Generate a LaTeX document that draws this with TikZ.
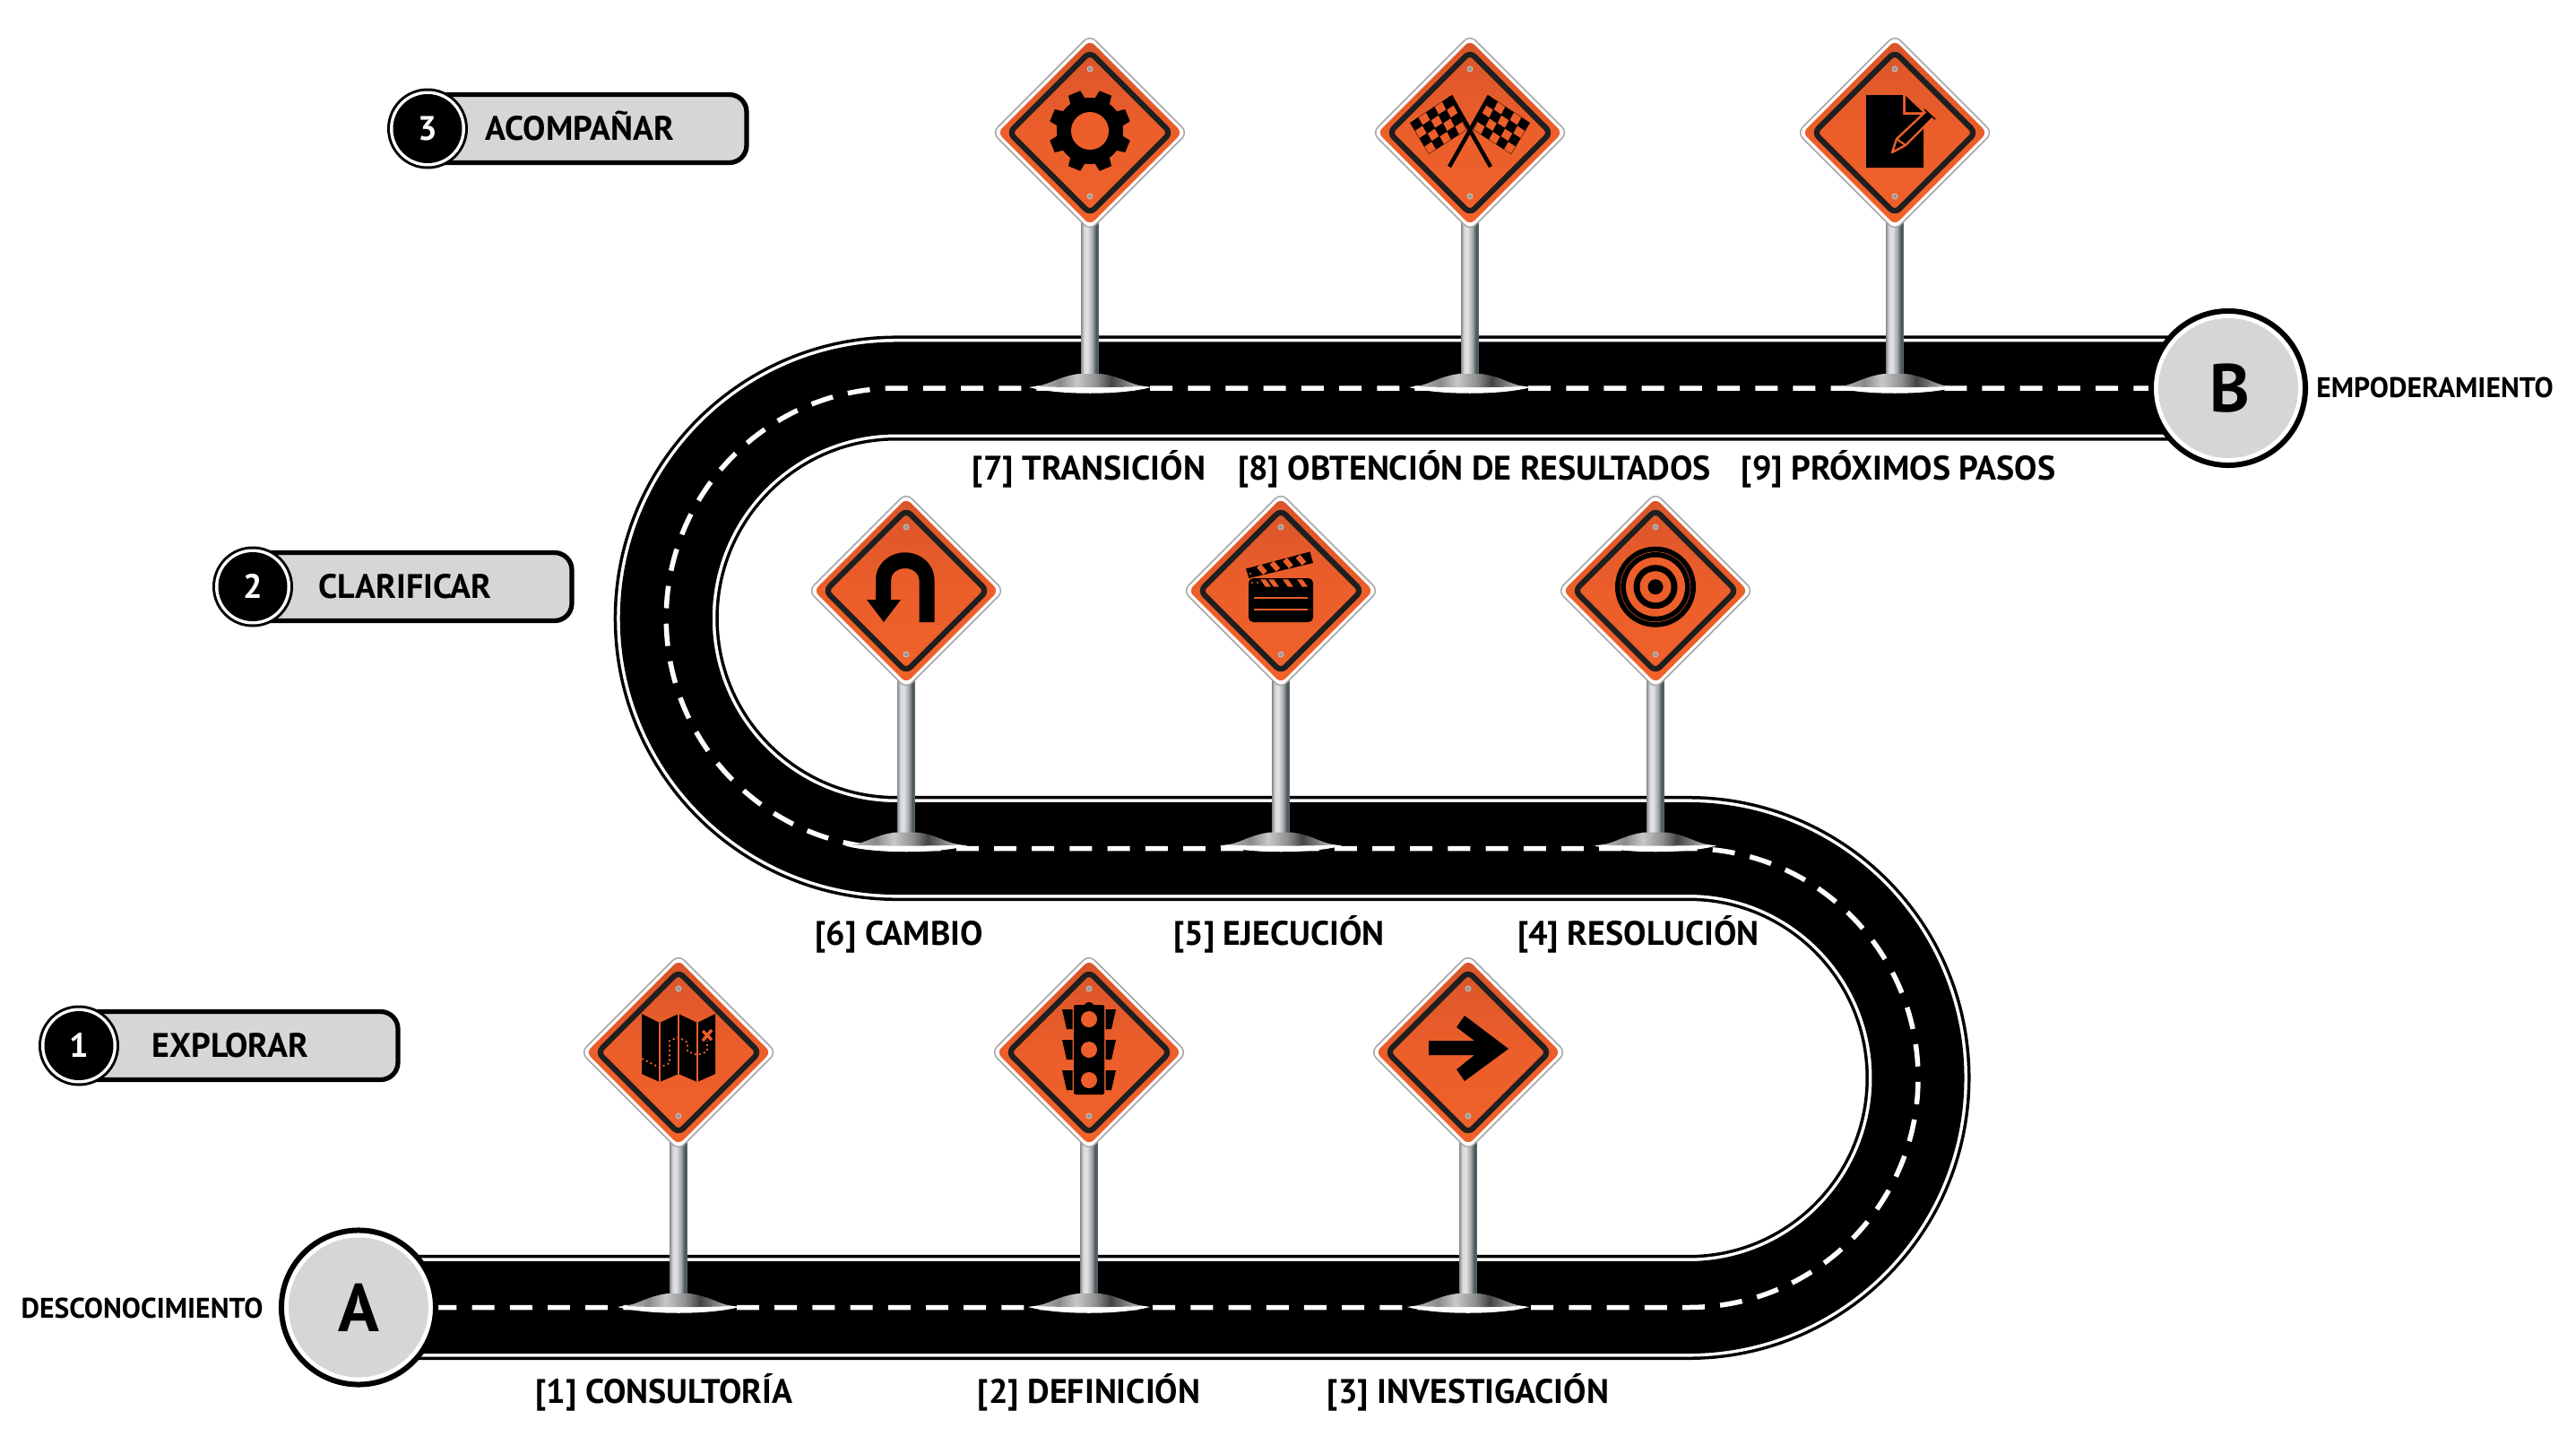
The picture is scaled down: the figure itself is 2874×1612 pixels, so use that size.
\documentclass[tikz,border=0pt]{standalone}
\usepackage{fontspec}
\setmainfont{PT Sans}[BoldFont={PT Sans Bold}]
\usetikzlibrary{calc}
\definecolor{signor}{HTML}{EC5E2A}
\definecolor{signortop}{HTML}{F0622A}
\definecolor{signorbot}{HTML}{D9552A}
\definecolor{pillgr}{HTML}{D6D6D6}
\definecolor{pa}{HTML}{909395}
\definecolor{pb}{HTML}{D8DADB}
\definecolor{pc}{HTML}{E0E2E3}
\definecolor{pd}{HTML}{A5A9AB}
\definecolor{pe}{HTML}{4A565B}
\definecolor{pf}{HTML}{5C666B}
\pgfdeclarehorizontalshading{polesh}{100bp}{color(0bp)=(pa);color(25bp)=(pa);color(33bp)=(pb);color(43bp)=(pc);color(57bp)=(pd);color(68bp)=(pe);color(75bp)=(pf);color(100bp)=(pf)}
\definecolor{da}{HTML}{BBBBBB}
\definecolor{db}{HTML}{8A8A8A}
\definecolor{dc}{HTML}{C8C8C8}
\definecolor{dd}{HTML}{909090}
\definecolor{de}{HTML}{444444}
\definecolor{df}{HTML}{777777}
\definecolor{dg}{HTML}{C8C8C8}
\pgfdeclarehorizontalshading{domesh}{100bp}{color(0bp)=(da);color(25bp)=(da);color(36bp)=(db);color(44bp)=(dc);color(53bp)=(dd);color(60bp)=(de);color(66bp)=(df);color(75bp)=(dg);color(100bp)=(dg)}
\newcommand\px{0.2845pt}
\tikzset{
  lbl/.style={font=\bfseries\fontsize{10.8pt}{12pt}\selectfont,inner sep=0pt,anchor=base,text=black},
  lblsmall/.style={font=\bfseries\fontsize{9pt}{11pt}\selectfont,inner sep=0pt,anchor=base,text=black},
  pillbox/.style={draw=black,fill=pillgr,line width=1.5pt,rounded corners=5.5pt},
  roadblack/.style={line width=117*\px,draw=black},
  roadwhite/.style={line width=110*\px,draw=white},
  roadinner/.style={line width=103*\px,draw=black},
  roaddash/.style={line width=5.5*\px,draw=white,dash pattern=on 7.1pt off 4.9pt},
  bigcircle/.style={circle,draw=black,line width=6*\px,fill=white,minimum size=172*\px,inner sep=0pt},
}
\newcommand\sign[3]{%
  \begin{scope}[shift={(#1,#2)}]
    \fill[white,draw=gray!70,line width=1.5*\px,rounded corners=2.5pt] (0,-109)--(109,0)--(0,109)--(-109,0)--cycle;
    \shade[top color=signortop,bottom color=signorbot,middle color=signor,rounded corners=2pt,shading angle=180] (0,-103)--(103,0)--(0,103)--(-103,0)--cycle;
    \draw[black!88,line width=6.2*\px,rounded corners=2pt,line join=round] (0,-90)--(90,0)--(0,90)--(-90,0)--cycle;
    \fill[gray!80,draw=gray!40,line width=.7*\px] (0,-71) circle[radius=3];
    \fill[gray!80,draw=gray!40,line width=.7*\px] (0,71) circle[radius=3];
    #3
  \end{scope}}
\newcommand\post[2]{%
  \begin{scope}[shift={(#1,#2)}]
    \shade[shading=polesh] (-9.5,-340)--(9.5,-340)--(9.5,-14)--(-9.5,-14)--cycle;
    \fill[white] (-68,-3) .. controls (-40,-8) and (40,-8) .. (68,-3) .. controls (35,6) and (-35,6) .. (-68,-3) -- cycle;
    \shade[shading=domesh] (-60,-4) .. controls (-45,-6) and (-35,-15) .. (-12,-18) -- (12,-18) .. controls (35,-15) and (45,-6) .. (60,-4) .. controls (30,-2.5) and (-30,-2.5) .. (-60,-4) -- cycle;
  \end{scope}}
\newcommand\flagpt[2]{($($(-21.7,-41)!#1!(-67,-11)$)!#2!($(-4,-3)!#1!(-46,24)$)$)}
\newcommand\oneflag{%
  \fill[black] (-21.7,-41)--(-67,-11)--(-46,24)--(-4,-3)--cycle;
  \foreach \ci in {0,...,4}{\foreach \cj in {0,...,3}{%
    \pgfmathparse{int(mod(\ci+\cj,2))}%
    \ifnum\pgfmathresult=1
      \pgfmathsetmacro\ua{(\ci+.04)/5}\pgfmathsetmacro\ub{(\ci+.96)/5}%
      \pgfmathsetmacro\va{(\cj+.04)/4}\pgfmathsetmacro\vb{(\cj+.96)/4}%
      \fill[signor] \flagpt{\ua}{\va} -- \flagpt{\ub}{\va} -- \flagpt{\ub}{\vb} -- \flagpt{\ua}{\vb} -- cycle;
    \fi}}%
  \draw[black,line width=4.5*\px] (-21.7,-41)--(23,38);
}
\begin{document}
\begin{tikzpicture}[x=0.01cm,y=0.01cm,yscale=-1]
\useasboundingbox (0,0) rectangle (2874,1612);
\fill[white] (0,0) rectangle (2874,1612);
\coordinate (A0) at (400,1458.5);
\coordinate (B0) at (2486,433);
% road
\foreach \st in {roadblack,roadwhite,roadinner,roaddash}{
  \draw[\st] (A0) -- (1884,1458.5) arc[start angle=90,end angle=-90,radius=256] -- (1000,946.5) arc[start angle=90,end angle=270,radius=256.75] -- (B0);
}
% posts
\post{757}{1461}\post{1215}{1461}\post{1638}{1461}
\post{1011}{946.5}\post{1429}{946.5}\post{1847}{946.5}
\post{1216}{435}\post{1640}{435}\post{2114}{435}
% sign 7 gear
\sign{1216}{148}{
  \begin{scope}[shift={(0,-2)}]
    \fill[black] (0,0) circle[radius=37];
    \foreach \a in {22.5,67.5,...,337.5}{\fill[black] ({\a-15}:35)--({\a-9}:46)--({\a+9}:46)--({\a+15}:35)--cycle;}
    \fill[signor] (0,0) circle[radius=21];
  \end{scope}}
% sign 8 flags
\sign{1640}{148}{
  \oneflag
  \begin{scope}[xscale=-1]\oneflag\end{scope}}
% sign 9 doc
\sign{2114}{148}{
  \fill[black] (-32,-42)--(9,-42)--(9,-20)--(32,-20)--(32,39)--(-32,39)--cycle;
  \fill[black] (11,-42)--(31,-23)--(11,-23)--cycle;
  \draw[signor,line width=2*\px] (11,-42)--(11,-21)--(33,-21);
  \draw[signor,fill=black,line width=2.4*\px,line join=round] (-3,22)--(2,7)--(36,-25)--(44,-18)--(12,14)--cycle;
  \draw[signor,line width=2*\px] (2,7)--(12,14);
  \draw[black,line width=1.5*\px] (33,-26)--(45,-15);
}
% sign 6 u-turn
\sign{1011}{659}{
  \fill[black] (31.5,35)--(31.5,-12) arc[start angle=0,end angle=-180,x radius=32.75,y radius=30.7] -- (-34,10)--(-44,10)--(-25,35)--(-6,10)--(-17,10)--(-17,-12) arc[start angle=180,end angle=360,x radius=15.75,y radius=13] -- (14.5,35)--cycle;
}
% sign 5 clapper
\sign{1429}{659}{
  \fill[black,rounded corners=1.5pt] (-36,-14)--(36,-14)--(36,35)--(-36,35)--cycle;
  \fill[black] (-39,-24.5)--(32.5,-43.5)--(36,-31)--(-35.5,-14)--cycle;
  \foreach \x/\y in {-21/-23.8,-6.5/-27.3,8/-30.8,22.5/-34.3}{\draw[signor,line width=6*\px] ($(\x,\y)+(-3.5,-4)$)--($(\x,\y)+(3.5,4)$);}
  \foreach \x in {-23,-14,2,18}{\fill[signor] (\x,-12.7)--(\x+6,-12.7)--(\x+12,-4.3)--(\x+6,-4.3)--cycle;}
  \draw[signor,line width=1.3*\px] (-30,8)--(30,8);
  \draw[signor,line width=2*\px] (-30,21)--(30,21);
  \fill[signor] (-34,-19) circle[radius=1.2] (-32,-9) circle[radius=1.2] (-26,-9) circle[radius=1.2];
}
% sign 4 target
\sign{1847}{659}{
  \begin{scope}[shift={(0,-4.3)}]
    \fill[black] (0,0) circle[radius=45];
    \fill[signor] (0,0) circle[radius=39.3];
    \fill[black] (0,0) circle[radius=38.7];
    \fill[signor] (0,0) circle[radius=33];
    \fill[black] (0,0) circle[radius=24.5];
    \fill[signor] (0,0) circle[radius=17.5];
    \fill[black] (0,0) circle[radius=8.5];
  \end{scope}}
% sign 1 map
\sign{757}{1174}{
  \fill[black] (-41,-43)--(-21,-33)--(0,-43)--(21,-33)--(41,-43)--(41,24)--(21,33)--(0,24)--(-21,33)--(-41,24)--cycle;
  \draw[signor,line width=1.4*\px] (-21,-33)--(-21,33) (0,-43)--(0,24) (21,-33)--(21,33);
  \draw[signor,line width=1.8*\px,dash pattern=on .6pt off .9pt] (-41,7)--(-21,17)--(-10,12)--(-10,-13)--(0,-17)--(10,-11)--(10,-1)--(21,3)--(32,-1)--(32,-13);
  \draw[signor,line width=3.5*\px] (27,-24)--(37,-14) (37,-25)--(27,-13);
}
% sign 2 traffic
\sign{1215}{1174}{
  \fill[black] (0,-50) circle[radius=6];
  \fill[black,rounded corners=.6pt] (-17,-53)--(17,-53)--(17,47)--(-17,47)--cycle;
  \foreach \y in {-37,-3,31}{\fill[signor] (0,\y) ellipse[x radius=9,y radius=9];}
  \foreach \y in {-48,-14,20}{
    \fill[black] (-30,\y)--(-18.5,\y)--(-18.5,\y+22)--(-25,\y+22)--cycle;
    \fill[black] (30,\y)--(18.5,\y)--(18.5,\y+22)--(25,\y+22)--cycle;}
}
% sign 3 arrow
\sign{1638}{1174}{
  \fill[black] (-44,-13)--(7,-13)--(-13,-28)--(-4,-41)--(45,-4)--(-4,32)--(-13,19)--(7,3)--(-44,3)--cycle;
}
% circles
\node[bigcircle] (A) at (A0) {};
\fill[pillgr] (A0) circle[radius=78];
\node[bigcircle] (B) at (B0) {};
\fill[pillgr] (B0) circle[radius=78];
\node[inner sep=0pt,anchor=base,font=\bfseries\fontsize{21.5pt}{23pt}\selectfont] (At) at (400,1485) {A};
\node[inner sep=0pt,anchor=base,font=\bfseries\fontsize{21.5pt}{23pt}\selectfont] (Bt) at (2488,459) {B};
% end labels
\node[lblsmall] (desc) at (158.5,1470) {DESCONOCIMIENTO};
\node[lblsmall] (empo) at (2716.5,443) {EMPODERAMIENTO};
% stage labels
\node[lbl] (l7) at (1215,535) {[7] TRANSICIÓN};
\node[lbl] (l8) at (1645,535) {[8] OBTENCIÓN DE RESULTADOS};
\node[lbl] (l9) at (2118,535) {[9] PRÓXIMOS PASOS};
\node[lbl] (l6) at (1003,1054) {[6] CAMBIO};
\node[lbl] (l5) at (1427,1054) {[5] EJECUCIÓN};
\node[lbl] (l4) at (1828,1054) {[4] RESOLUCIÓN};
\node[lbl] (l1) at (741,1565) {[1] CONSULTORÍA};
\node[lbl] (l2) at (1215,1565) {[2] DEFINICIÓN};
\node[lbl] (l3) at (1638,1565) {[3] INVESTIGACIÓN};
% pills
\foreach \cx/\cy/\n/\t/\tx in {88/1166.5/1/EXPLORAR/257,282/654.5/2/CLARIFICAR/452,477/143.5/3/ACOMPAÑAR/647}{
  \draw[pillbox] (\cx,\cy-38) rectangle ++(356,76);
  \fill[black] (\cx,\cy) circle[radius=45];
  \fill[white] (\cx,\cy) circle[radius=42];
  \fill[black] (\cx,\cy) circle[radius=38.5];
  \node[lbl,text=white] at (\cx,\cy+13) {\n};
  \node[lbl] at (\tx,\cy+13) {\t};
}
\end{tikzpicture}
\end{document}
